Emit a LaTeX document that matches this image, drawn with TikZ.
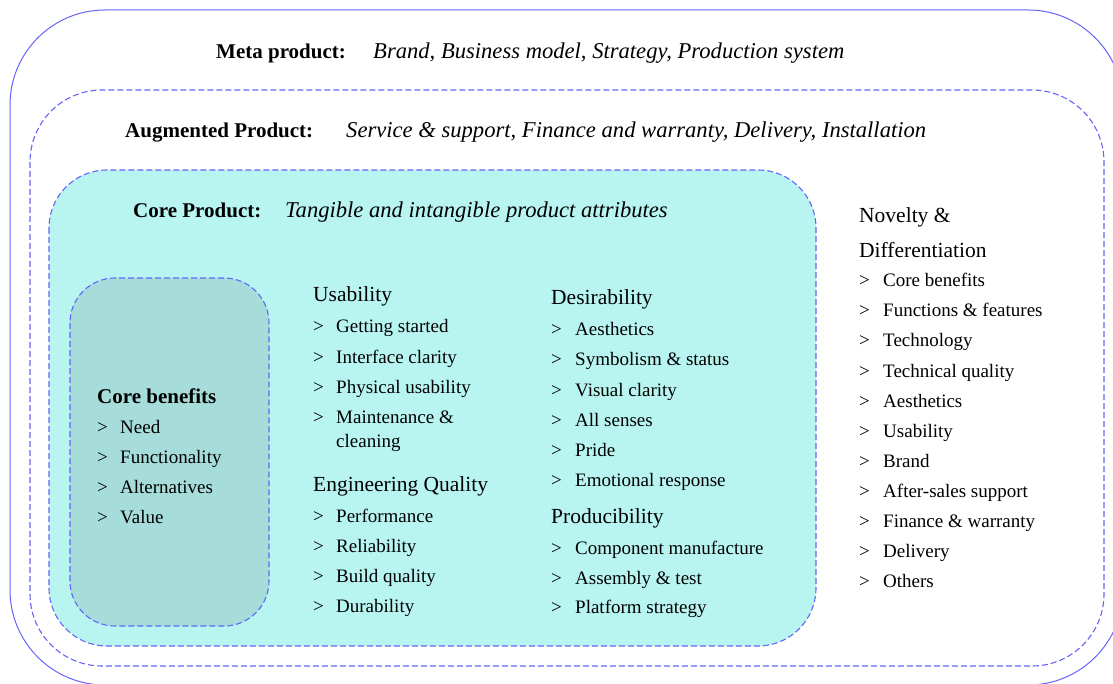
\documentclass[tikz,border=0pt]{standalone}
\usepackage{fontspec}
\setmainfont{Liberation Serif}
\usetikzlibrary{positioning}
\definecolor{ringline}{RGB}{100,100,248}
\definecolor{corefill}{RGB}{184,245,241}
\definecolor{benefitfill}{RGB}{166,220,217}

\begin{document}
\begin{tikzpicture}[x=1pt, y=-1pt, inner sep=0pt,
    ring/.style={draw=ringline, line width=1pt},
    dashring/.style={ring, line width=1.1pt, dash pattern=on 6pt off 3pt},
    title/.style={anchor=base west, font=\fontsize{21}{25}\selectfont\bfseries},
    blurb/.style={anchor=base west, font=\fontsize{22.6}{27}\selectfont\itshape},
    head/.style={anchor=base west, font=\fontsize{21.5}{26}\selectfont},
    entry/.style={anchor=base west, font=\fontsize{19}{24}\selectfont}]
    \useasboundingbox (0,0) rectangle (1113,684);
    \clip (0,0) rectangle (1113,684);

    % nested product layers
    \draw[ring, rounded corners=95pt] (10,10) rectangle (1123,685);
    \draw[dashring, rounded corners=72pt] (30,90) rectangle (1104,666);
    \draw[dashring, fill=corefill, rounded corners=58pt] (49,170) rectangle (816,646);
    \draw[dashring, fill=benefitfill, rounded corners=45pt] (70,278) rectangle (269,626);

    % layer titles
    \node[title] (meta) at (216,59) {Meta product:};
    \node[blurb] (metatxt) at (373,59) {Brand, Business model, Strategy, Production system};
    \node[title] (aug) at (125,138) {Augmented Product:};
    \node[blurb] (augtxt) at (346,138) {Service \& support, Finance and warranty, Delivery, Installation};
    \node[title] (core) at (133,218) {Core Product:};
    \node[blurb] (coretxt) at (285,218) {Tangible and intangible product attributes};

    % core benefits
    \node[title] (ben) at (97,403) {Core benefits};
    \foreach \txt [count=\i] in {Need, Functionality, Alternatives, Value}
        \node[entry] (ben\i) at (97, 403+30*\i) {\makebox[23pt][l]{>}\txt};

    % usability + engineering quality
    \node[head] (use) at (313,302) {Usability};
    \foreach \txt [count=\i] in {Getting started, Interface clarity, Physical usability, Maintenance \&}
        \node[entry] (use\i) at (313, 303+30*\i) {\makebox[23pt][l]{>}\txt};
    \node[entry] (use5) at (336,447) {cleaning};
    \node[head] (eng) at (313,491) {Engineering Quality};
    \foreach \txt [count=\i] in {Performance, Reliability, Build quality, Durability}
        \node[entry] (eng\i) at (313, 492+30*\i) {\makebox[23pt][l]{>}\txt};

    % desirability + producibility
    \node[head] (des) at (551,305) {Desirability};
    \foreach \txt [count=\i] in {Aesthetics, Symbolism \& status, Visual clarity, All senses, Pride, Emotional response}
        \node[entry] (des\i) at (551, 306+30*\i) {\makebox[24pt][l]{>}\txt};
    \node[head] (prod) at (551,523) {Producibility};
    \foreach \txt [count=\i] in {Component manufacture, Assembly \& test, Platform strategy}
        \node[entry] (prod\i) at (551, 525+29.5*\i) {\makebox[24pt][l]{>}\txt};

    % novelty column outside the core
    \node[head] (nov) at (859,223) {Novelty \&};
    \node[head] (dif) at (859,258) {Differentiation};
    \foreach \txt [count=\i] in {Core benefits, Functions \& features, Technology, Technical quality,
        Aesthetics, Usability, Brand, After-sales support, Finance \& warranty, Delivery, Others}
        \node[entry] (nov\i) at (859, 257+30*\i) {\makebox[24pt][l]{>}\txt};
\end{tikzpicture}
\end{document}
